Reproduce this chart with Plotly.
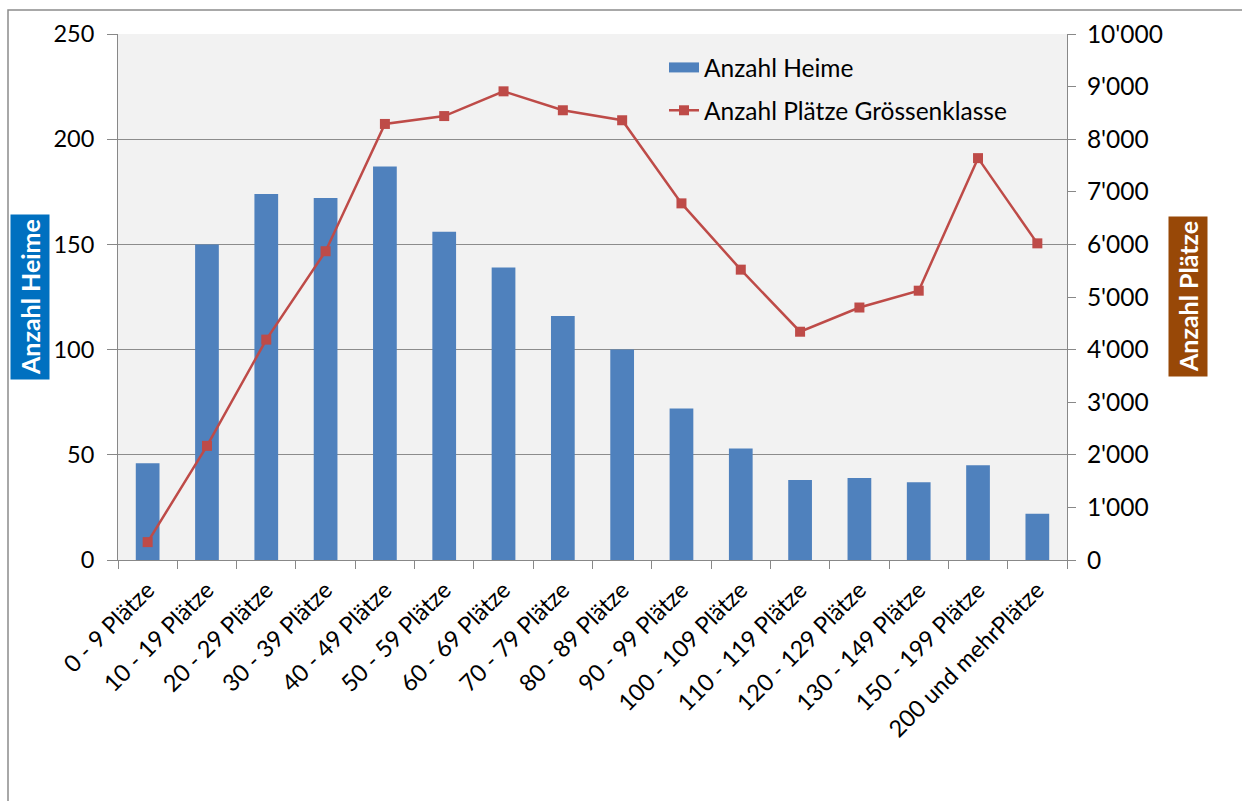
import plotly.graph_objects as go

categories = ["0 - 9 Plätze", "10 - 19 Plätze", "20 - 29 Plätze", "30 - 39 Plätze",
              "40 - 49 Plätze", "50 - 59 Plätze", "60 - 69 Plätze", "70 - 79 Plätze",
              "80 - 89 Plätze", "90 - 99 Plätze", "100 - 109 Plätze", "110 - 119 Plätze",
              "120 - 129 Plätze", "130 - 149 Plätze", "150 - 199 Plätze", "200 und mehrPlätze"]
anzahl_heime = [46, 150, 174, 172, 187, 156, 139, 116, 100, 72, 53, 38, 39, 37, 45, 22]
anzahl_plaetze = [340, 2170, 4190, 5870, 8290, 8440, 8910, 8550, 8360, 6780, 5520, 4340,
                  4800, 5120, 7640, 6020]
left_ticks = [0, 50, 100, 150, 200, 250]
right_ticks = list(range(0, 10001, 1000))

FONT = "Lato"
W, H = 1242, 801
L, R, T, B = 118, 1067, 34, 560
BAR_COLOR = "#4F81BD"
LINE_COLOR = "#BE4B48"

fig = go.Figure()
fig.add_trace(go.Bar(x=categories, y=anzahl_heime, name="Anzahl Heime",
                     marker=dict(color=BAR_COLOR, line=dict(width=0)), yaxis="y",
                     showlegend=False))
# legend entry for the bars (wide rectangle like the original legend key)
fig.add_trace(go.Scatter(x=[None], y=[None], name="Anzahl Heime", mode="lines",
                         line=dict(color=BAR_COLOR, width=14), legendgroup="a"))
fig.add_trace(go.Scatter(x=categories, y=anzahl_plaetze, name="Anzahl Plätze Grössenklasse",
                         mode="lines+markers", yaxis="y2", legendgroup="b",
                         line=dict(color=LINE_COLOR, width=2.5),
                         marker=dict(symbol="square", size=10, color=LINE_COLOR)))

def px(x):
    return (x - L) / (R - L)

def py(y):
    return (B - y) / (B - T)

fig.update_layout(
    width=W, height=H,
    margin=dict(l=L, r=W - R, t=T, b=H - B, autoexpand=False),
    paper_bgcolor="white", plot_bgcolor="#F2F2F2",
    font=dict(family=FONT, size=22, color="#000000"),
    separators=".'",
    bargap=0.6,
    showlegend=True,
    legend=dict(x=px(664), y=py(45), xanchor="left", yanchor="top",
                bgcolor="rgba(0,0,0,0)", font=dict(size=24.5, family=FONT),
                itemwidth=30, tracegroupgap=8),
    xaxis=dict(type="category", tickangle=-45, tickson="boundaries", ticks="outside",
               ticklen=8, tickcolor="#888888", showline=True, linecolor="#888888",
               linewidth=1, showgrid=False, tickfont=dict(size=23.5, family=FONT),
               ticklabelstandoff=6, range=[-0.5, len(categories) - 0.5]),
    yaxis=dict(range=[0, 250], tickvals=left_ticks, ticks="outside", ticklen=10,
               tickcolor="#888888", showline=True, linecolor="#888888", linewidth=1,
               showgrid=True, gridcolor="#8C8C8C", gridwidth=1, zeroline=False,
               tickfont=dict(size=23.5, family=FONT), ticklabelstandoff=8),
    yaxis2=dict(range=[0, 10000], tickvals=right_ticks, overlaying="y", side="right",
                ticks="outside", ticklen=8, tickcolor="#888888", showline=True,
                linecolor="#888888", linewidth=1, showgrid=False, zeroline=False,
                tickformat=",d", tickfont=dict(size=24.5, family=FONT), ticklabelstandoff=6),
    shapes=[dict(type="rect", xref="paper", yref="paper",
                 x0=px(8), x1=px(1260), y0=py(830), y1=py(10),
                 line=dict(color="#8C8C8C", width=1.5), fillcolor="rgba(0,0,0,0)",
                 layer="below")],
    annotations=[
        dict(text="<b>Anzahl Heime</b>", xref="paper", yref="paper", x=px(30), y=py(297),
             textangle=-90, showarrow=False, font=dict(color="white", size=25, family=FONT),
             bgcolor="#0070C0", borderpad=4, xanchor="center", yanchor="middle"),
        dict(text="<b>Anzahl Plätze</b>", xref="paper", yref="paper", x=px(1188), y=py(297),
             textangle=-90, showarrow=False, font=dict(color="white", size=25, family=FONT),
             bgcolor="#984807", borderpad=4, xanchor="center", yanchor="middle"),
    ],
)

fig.write_html("out.html")
